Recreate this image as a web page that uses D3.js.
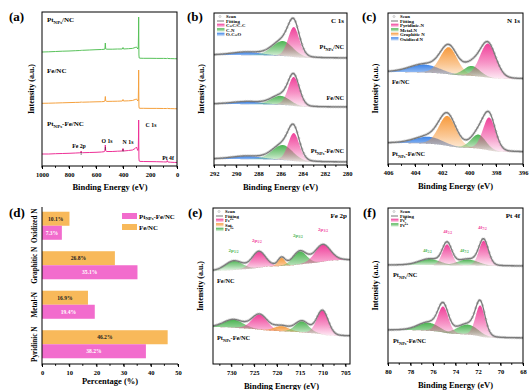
<!DOCTYPE html>
<html><head><meta charset="utf-8">
<script src="https://cdn.jsdelivr.net/npm/d3@7"></script>
<style>
body{margin:0;background:#fff}
text{font-family:"Liberation Serif","Times New Roman",serif;font-weight:bold}
</style>
</head><body>
<svg id="c" width="530" height="390"></svg>
<script>
// ================= DATA =================
// (a) survey spectra: binding energy (eV) and relative intensity (a.u.)
const surveyBE = [1000,950,900,850,800,750,720,712,710,708,700,650,600,560,540,534,531,528,520,480,440,405,400,396,360,330,310,300,295,290,287,285,284,283,282,280,275,250,200,150,100,76,72,68,50,20,0];
const surveyPtNC   = [10,10.2,10.5,10.8,11,11.3,11.5,11.6,11.8,11.6,11.7,12,12.3,12.5,12.7,13,19,13,12.8,12.8,13,13,14.5,13,13.3,13.6,14.5,15,14,13,14,28,45,24,7,4,3.8,3.7,3.7,3.6,3.6,3.5,3.8,3.5,3.4,3.3,3.2];
const surveyFeNC   = [8.7,8.8,9,9.2,9.4,9.6,9.7,9.8,10.2,9.8,9.8,10,10.2,10.3,10.5,11,15.5,11,10.6,10.7,10.8,11,12.5,11,11.2,11.5,12.5,13,12,11,12,26,42,22,6,3.8,3.7,3.7,3.6,3.6,3.5,3.5,3.7,3.5,3.4,3.3,3.2];
const surveyPtFeNC = [12,12,12.3,12.5,12.7,13,13.2,13.5,15,13.5,13.3,13.5,13.7,14,14.3,15,21,15,14.5,14.5,14.8,15,17.5,15,15.5,16,17.5,19,17,15.5,17,30,46,25,8,5,4.6,4.5,4.4,4.3,4.1,4,5.5,4,3.8,3.6,3.5];
const surveyPeakNames = ["Fe 2p","O 1s","N 1s","C 1s","Pt 4f"];
const surveyPeakBE    = [710,531,400,284,72];

// (b) C 1s fitted components: centre (eV), height (a.u.), FWHM (eV)
const c1sPtNC   = [{c:289.0,h:3,w:3.2,k:"blue"},{c:285.8,h:15,w:2.2,k:"green"},{c:284.8,h:30,w:1.2,k:"pink"}];
const c1sFeNC   = [{c:289.0,h:2.5,w:3.2,k:"blue"},{c:286.0,h:9,w:2.0,k:"green"},{c:284.8,h:29,w:1.2,k:"pink"}];
const c1sPtFeNC = [{c:289.0,h:3,w:3.2,k:"blue"},{c:285.8,h:15,w:2.2,k:"green"},{c:284.8,h:28,w:1.2,k:"pink"}];
const c1sBackgroundRise = [3,3,3];

// (c) N 1s
const n1sFeNC   = [{c:403.3,h:8,w:2.6,k:"blue"},{c:401.5,h:27,w:1.5,k:"orange"},{c:399.8,h:10,w:1.4,k:"green"},{c:398.6,h:34,w:1.4,k:"pink"}];
const n1sPtFeNC = [{c:403.0,h:7,w:2.4,k:"blue"},{c:401.6,h:30,w:1.5,k:"orange"},{c:399.3,h:14,w:1.3,k:"green"},{c:398.5,h:33,w:1.1,k:"pink"}];
const n1sBackgroundRise = [7,9];

// (d) N species percentage
const nSpecies   = ["Oxidized N","Graphitic N","Metal-N","Pyridinic N"];
const pctFeNC    = [10.1,26.8,16.9,46.2];
const pctPtFeNC  = [7.3,35.1,19.4,38.2];

// (e) Fe 2p
const fe2pFeNC   = [{c:729.5,h:9,w:4.5,k:"green"},{c:724.0,h:16,w:3.5,k:"pink"},{c:719.0,h:8,w:1.8,k:"orange"},{c:715.0,h:13,w:3.5,k:"green"},{c:710.0,h:17,w:4.0,k:"pink"}];
const fe2pPtFeNC = [{c:729.5,h:8,w:5,k:"green"},{c:723.8,h:15,w:4,k:"pink"},{c:719.0,h:5,w:4,k:"orange"},{c:714.5,h:11,w:3.5,k:"green"},{c:710.0,h:24,w:3,k:"pink"}];
const fe2pBackgroundRise = [-11,9];
const fe2pPeakLabels = [{be:729.5,t:"2p",s:"1/2",k:"green"},{be:724.4,t:"2p",s:"1/2",k:"pink"},{be:715.4,t:"2p",s:"3/2",k:"green"},{be:709.9,t:"2p",s:"3/2",k:"pink"}];

// (f) Pt 4f
const pt4fPtNC   = [{c:76.3,h:6,w:2.2,k:"green"},{c:72.9,h:6,w:2.2,k:"green"},{c:74.75,h:21,w:1.0,k:"pink"},{c:71.5,h:25,w:1.0,k:"pink"}];
const pt4fPtFeNC = [{c:76.4,h:8,w:2.2,k:"green"},{c:72.9,h:10,w:2.2,k:"green"},{c:75.1,h:26,w:1.1,k:"pink"},{c:71.8,h:31,w:1.0,k:"pink"}];
const pt4fBackgroundRise = [1,8];
const pt4fPeakLabels = [{be:74.7,t:"4f",s:"5/2",k:"pink"},{be:71.6,t:"4f",s:"7/2",k:"pink"},{be:76.5,t:"4f",s:"5/2",k:"green"},{be:73.2,t:"4f",s:"7/2",k:"green"}];

// ================= DRAWING =================
const svg = d3.select("#c");
const defs = svg.append("defs");
const col = {pink:"#f0409a", green:"#4cb452", orange:"#f79a3c", blue:"#3d84e8",
             svGreen:"#58c25a", svOrange:"#f5a13e", svPink:"#ee3197",
             barPink:"#f26ccd", barOrange:"#f8b95a"};
["pink","green","orange","blue"].forEach(k=>{
  const gr = defs.append("linearGradient").attr("id","grad-"+k).attr("x1",0).attr("y1",0).attr("x2",0).attr("y2",1);
  gr.append("stop").attr("offset","0").attr("stop-color",col[k]).attr("stop-opacity",1);
  gr.append("stop").attr("offset","0.55").attr("stop-color",col[k]).attr("stop-opacity",0.55);
  gr.append("stop").attr("offset","1").attr("stop-color",col[k]).attr("stop-opacity",0.1);
});

function frame(x0,y0,x1,y1){
  svg.append("rect").attr("x",x0).attr("y",y0).attr("width",x1-x0).attr("height",y1-y0)
    .attr("fill","none").attr("stroke","#000").attr("stroke-width",1);
}
function bottomAxis(x,y,major,minor){
  const g = svg.append("g").attr("transform",`translate(0,${y})`);
  g.call(d3.axisBottom(x).tickValues(major).tickSize(3).tickSizeOuter(0).tickFormat(d3.format("d")));
  g.select(".domain").remove();
  g.selectAll(".tick line").attr("stroke","#000");
  g.selectAll("text").attr("font-size",6.5).attr("font-weight","bold")
    .attr("font-family",'"Liberation Serif","Times New Roman",serif').attr("fill","#000");
  g.selectAll(".mn").data(minor).enter().append("line").attr("class","mn")
    .attr("x1",d=>x(d)).attr("x2",d=>x(d)).attr("y1",0).attr("y2",1.8).attr("stroke","#000");
}
function xTitle(cx,y,t){ svg.append("text").attr("x",cx).attr("y",y).attr("text-anchor","middle").attr("font-size",8.5).text(t); }
function yTitle(x,cy,t){ svg.append("text").attr("transform",`translate(${x},${cy}) rotate(-90)`).attr("text-anchor","middle").attr("font-size",8).text(t); }
function panelLetter(x,y,t){ svg.append("text").attr("x",x).attr("y",y).attr("font-size",13).text(t); }
// sample names with subscript
function sampleName(parent,x,y,name,anchor,size){
  const t = parent.append("text").attr("x",x).attr("y",y).attr("text-anchor",anchor||"start").attr("font-size",size).attr("fill","#000");
  if(name==="Fe/NC"){ t.text("Fe/NC"); return t; }
  t.append("tspan").text("Pt");
  t.append("tspan").attr("dy",size*0.28).attr("font-size",size*0.7).text("NPs");
  t.append("tspan").attr("dy",-size*0.28).text(name==="PtNC"?"/NC":"-Fe/NC");
  return t;
}
function supText(parent,x,y,base,sup,size,fill){
  const t = parent.append("text").attr("x",x).attr("y",y).attr("font-size",size).attr("fill",fill||"#000");
  t.append("tspan").text(base);
  t.append("tspan").attr("dy",-size*0.4).attr("font-size",size*0.7).text(sup);
  return t;
}

// ---------- (a) survey ----------
{
  const x = d3.scaleLinear().domain([1000,0]).range([42,177]);
  const y = d3.scaleLinear().domain([0,154]).range([166,12]);
  const series = [{v:surveyPtFeNC,o:0,c:col.svPink},{v:surveyFeNC,o:54,c:col.svOrange},{v:surveyPtNC,o:104,c:col.svGreen}];
  const clip = defs.append("clipPath").attr("id","clipA");
  clip.append("rect").attr("x",42).attr("y",12).attr("width",135).attr("height",154);
  const g = svg.append("g").attr("clip-path","url(#clipA)");
  series.forEach(s=>{
    g.append("path").datum(surveyBE.map((e,i)=>[e,s.v[i]+s.o]))
      .attr("d",d3.line().x(d=>x(d[0])).y(d=>y(d[1])))
      .attr("fill","none").attr("stroke",s.c).attr("stroke-width",1);
  });
  frame(42,12,177,166);
  bottomAxis(x,166,[1000,800,600,400,200,0],d3.range(0,1001,100));
  xTitle(110,190,"Binding Energy (eV)");
  yTitle(34,89,"Intensity (a.u.)");
  panelLetter(9,21,"(a)");
  sampleName(svg,47,22,"PtNC","start",7);
  sampleName(svg,47,73,"Fe/NC","start",7);
  sampleName(svg,47,126,"PtFeNC","start",7);
  // peak annotations
  const lblPos = {"Fe 2p":[79,148,152],"O 1s":[107,143,147],"N 1s":[128,144,149],"C 1s":[151,127,null],"Pt 4f":[168,160,null]};
  surveyPeakNames.forEach((n,i)=>{
    const p = lblPos[n];
    svg.append("text").attr("x",p[0]).attr("y",p[1]).attr("text-anchor","middle").attr("font-size",5.8).text(n);
    if(p[2]!==null){
      svg.append("line").attr("x1",x(surveyPeakBE[i])).attr("x2",x(surveyPeakBE[i])).attr("y1",p[2]).attr("y2",p[2]+3)
        .attr("stroke","#000").attr("stroke-width",0.5);
    }
  });
}

// ---------- fit panels ----------
function pv(e,p){ const t=(e-p.c)/p.w; return p.h*(0.85*Math.exp(-4*Math.LN2*t*t)+0.15/(1+4*t*t)); }
function fitPanel(cfg){
  const {id,x0,x1,y0,y1,domain,samples} = cfg;
  const x = d3.scaleLinear().domain(domain).range([x0,x1]);
  const y = d3.scaleLinear().domain([0,y1-y0]).range([y1,y0]);
  defs.append("clipPath").attr("id","clip"+id).append("rect").attr("x",x0).attr("y",y0).attr("width",x1-x0).attr("height",y1-y0);
  const g = svg.append("g").attr("clip-path",`url(#clip${id})`);
  const lo = Math.min(...domain), hi = Math.max(...domain);
  const N = 240;
  const grid = d3.range(N+1).map(i=>lo+(hi-lo)*i/N);
  samples.forEach(s=>{
    const comp = s.peaks.map(p=>grid.map(e=>pv(e,p)));
    const tot = grid.map((e,i)=>d3.sum(comp,c=>c[i]));
    let cum = 0; const cums = tot.map(v=>cum+=v);
    const bg = grid.map((e,i)=>s.offset + s.rise*cums[i]/cum);
    const env = grid.map((e,i)=>bg[i]+tot[i]);
    // scan points
    g.selectAll(null).data(grid.map((e,i)=>[e,env[i]]).filter((d,i)=>i%3===0)).enter().append("circle")
      .attr("cx",d=>x(d[0])).attr("cy",d=>y(d[1])).attr("r",1.1)
      .attr("fill","none").attr("stroke","#a8a8a8").attr("stroke-width",0.5);
    // components
    s.peaks.forEach((p,k)=>{
      const area = d3.area().x((d,i)=>x(grid[i])).y0((d,i)=>y(bg[i])).y1((d,i)=>y(bg[i]+d));
      g.append("path").datum(comp[k]).attr("d",area).attr("fill",`url(#grad-${p.k})`);
    });
    g.append("path").datum(env).attr("d",d3.line().x((d,i)=>x(grid[i])).y(d=>y(d)))
      .attr("fill","none").attr("stroke","#7a7a7a").attr("stroke-width",1.3);
  });
  frame(x0,y0,x1,y1);
  bottomAxis(x,y1,cfg.major,cfg.minor);
  xTitle((x0+x1)/2,y1+25,"Binding Energy (eV)");
  yTitle(x0-10,(y0+y1)/2,"Intensity (a.u.)");
  svg.append("text").attr("x",x1-3).attr("y",y0+10).attr("text-anchor","end").attr("font-size",7).text(cfg.title);
  // legend
  const lg = svg.append("g");
  cfg.legend.forEach((L,i)=>{
    const ly = y0+3.5+i*4.5;
    if(L.k==="scan"){
      lg.append("circle").attr("cx",x0+6).attr("cy",ly).attr("r",1).attr("fill","none").attr("stroke","#999").attr("stroke-width",0.5);
    } else if(L.k==="fit"){
      lg.append("line").attr("x1",x0+3).attr("x2",x0+10).attr("y1",ly).attr("y2",ly).attr("stroke","#777").attr("stroke-width",1);
    } else {
      lg.append("rect").attr("x",x0+3).attr("y",ly-1.8).attr("width",7.5).attr("height",3.6).attr("fill",`url(#grad-${L.k})`);
    }
    if(L.sup) supText(lg,x0+12,ly+1.6,L.t,L.sup,4.8);
    else lg.append("text").attr("x",x0+12).attr("y",ly+1.6).attr("font-size",4.8).text(L.t);
  });
  return {x,y};
}

// (b)
{
  const P = fitPanel({id:"B",x0:214,x1:347,y0:13,y1:165,domain:[292,280],
    major:d3.range(280,293,2),minor:d3.range(280,293,1),title:"C 1s",
    samples:[{peaks:c1sPtFeNC,offset:3,rise:c1sBackgroundRise[2]},{peaks:c1sFeNC,offset:58,rise:c1sBackgroundRise[1]},{peaks:c1sPtNC,offset:107,rise:c1sBackgroundRise[0]}],
    legend:[{t:"Scan",k:"scan"},{t:"Fitting",k:"fit"},{t:"C=C/C-C",k:"pink"},{t:"C-N",k:"green"},{t:"O-C=O",k:"blue"}]});
  panelLetter(187,21,"(b)");
  sampleName(svg,344,49,"PtNC","end",6.3);
  sampleName(svg,344,100,"Fe/NC","end",6.3);
  sampleName(svg,344,153,"PtFeNC","end",6.3);
}
// (c)
{
  fitPanel({id:"C",x0:388,x1:523,y0:13,y1:164,domain:[406,396],
    major:d3.range(396,407,2),minor:d3.range(396,407,1),title:"N 1s",
    samples:[{peaks:n1sPtFeNC,offset:12,rise:n1sBackgroundRise[1]},{peaks:n1sFeNC,offset:85,rise:n1sBackgroundRise[0]}],
    legend:[{t:"Scan",k:"scan"},{t:"Fitting",k:"fit"},{t:"Pyridinic-N",k:"pink"},{t:"Metal-N",k:"green"},{t:"Graphitic N",k:"orange"},{t:"Oxidized N",k:"blue"}]});
  panelLetter(362,21,"(c)");
  sampleName(svg,392,84,"Fe/NC","start",6.3);
  sampleName(svg,392,156,"PtFeNC","start",6.3);
}
// (e)
{
  const P = fitPanel({id:"E",x0:213,x1:350,y0:208,y1:364,domain:[734,704],
    major:[730,725,720,715,710,705],minor:d3.range(705,735,2.5),title:"Fe 2p",
    samples:[{peaks:fe2pPtFeNC,offset:28,rise:fe2pBackgroundRise[1]},{peaks:fe2pFeNC,offset:104,rise:fe2pBackgroundRise[0]}],
    legend:[{t:"Scan",k:"scan"},{t:"Fitting",k:"fit"},{t:"Fe",sup:"2+",k:"pink"},{t:"Sat.",k:"orange"},{t:"Fe",sup:"3+",k:"green"}]});
  panelLetter(188,217,"(e)");
  sampleName(svg,217,283,"Fe/NC","start",6.3);
  sampleName(svg,217,340,"PtFeNC","start",6.3);
  const ly = {"green1/2":252,"pink1/2":242,"green3/2":237,"pink3/2":231};
  fe2pPeakLabels.forEach(L=>{
    const t = svg.append("text").attr("x",P.x(L.be)).attr("y",ly[L.k+L.s]).attr("text-anchor","middle").attr("font-size",5).attr("fill",col[L.k]);
    t.append("tspan").text(L.t);
    t.append("tspan").attr("dy",1.4).attr("font-size",3.6).text(L.s);
  });
}
// (f)
{
  const P = fitPanel({id:"F",x0:388,x1:523,y0:208,y1:363,domain:[80,68],
    major:d3.range(68,81,2),minor:d3.range(68,81,1),title:"Pt 4f",
    samples:[{peaks:pt4fPtFeNC,offset:25,rise:pt4fBackgroundRise[1]},{peaks:pt4fPtNC,offset:97,rise:pt4fBackgroundRise[0]}],
    legend:[{t:"Scan",k:"scan"},{t:"Fitting",k:"fit"},{t:"Pt",sup:"0",k:"pink"},{t:"Pt",sup:"2+",k:"green"}]});
  panelLetter(363,217,"(f)");
  sampleName(svg,393,277,"PtNC","start",6.3);
  sampleName(svg,393,343,"PtFeNC","start",6.3);
  const ly = {"pink5/2":233,"pink7/2":229,"green5/2":252,"green7/2":252};
  pt4fPeakLabels.forEach(L=>{
    const t = svg.append("text").attr("x",P.x(L.be)).attr("y",ly[L.k+L.s]).attr("text-anchor","middle").attr("font-size",5).attr("fill",col[L.k]);
    t.append("tspan").text(L.t);
    t.append("tspan").attr("dy",1.4).attr("font-size",3.6).text(L.s);
  });
}

// ---------- (d) bars ----------
{
  const x = d3.scaleLinear().domain([0,50]).range([42,178]);
  const yb = d3.scaleBand().domain(nSpecies).range([206,364]).paddingInner(0.29).paddingOuter(0.145);
  const ys = d3.scaleBand().domain(["Fe","Pt"]).range([0,yb.bandwidth()]);
  const rows = nSpecies.map((s,i)=>({s,fe:pctFeNC[i],pt:pctPtFeNC[i]}));
  const g = svg.append("g");
  rows.forEach(r=>{
    [["Fe",r.fe,col.barOrange,"#222"],["Pt",r.pt,col.barPink,"#fff"]].forEach(([k,v,c,tc])=>{
      const by = yb(r.s)+ys(k);
      g.append("rect").attr("x",x(0)).attr("y",by).attr("width",x(v)-x(0)).attr("height",ys.bandwidth()).attr("fill",c);
      g.append("text").attr("x",(x(0)+x(v))/2).attr("y",by+ys.bandwidth()/2+2).attr("text-anchor","middle")
        .attr("font-size",5.6).attr("fill",tc).text(v.toFixed(1)+"%");
    });
    svg.append("text").attr("transform",`translate(37,${yb(r.s)+yb.bandwidth()/2}) rotate(-90)`)
      .attr("text-anchor","middle").attr("font-size",7.2).text(r.s);
  });
  svg.append("line").attr("x1",42).attr("x2",42).attr("y1",207).attr("y2",364).attr("stroke","#000");
  svg.append("line").attr("x1",42).attr("x2",178).attr("y1",364).attr("y2",364).attr("stroke","#000");
  bottomAxis(x,364,d3.range(0,51,10),d3.range(0,51,5));
  xTitle(110,384,"Percentage (%)");
  panelLetter(9,217,"(d)");
  // legend
  g.append("rect").attr("x",122).attr("y",213).attr("width",15).attr("height",6).attr("fill",col.barPink);
  sampleName(svg,139,218.5,"PtFeNC","start",6.8);
  g.append("rect").attr("x",122).attr("y",224).attr("width",15).attr("height",6).attr("fill",col.barOrange);
  sampleName(svg,139,229.5,"Fe/NC","start",6.8);
}
</script>
</body></html>
